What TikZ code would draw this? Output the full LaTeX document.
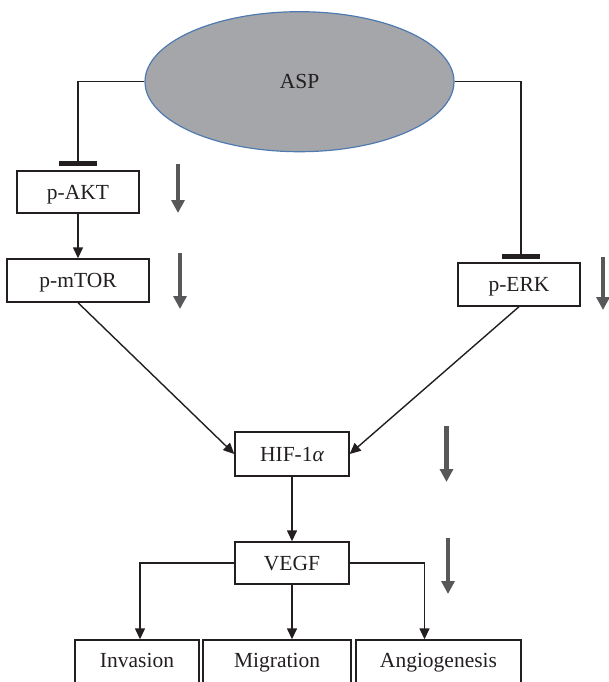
\documentclass[tikz,border=0pt]{standalone}
\usepackage{fontspec}
\setmainfont{Liberation Serif}
\usetikzlibrary{arrows.meta,shapes.geometric}
\definecolor{ink}{HTML}{231F20}
\definecolor{aspfill}{HTML}{A5A6AA}
\definecolor{aspline}{HTML}{4F7AB0}
\definecolor{downgray}{HTML}{58585A}
\begin{document}
\begin{tikzpicture}[x=1pt,y=-1pt,
  font=\fontsize{21.5}{25}\selectfont,
  box/.style={draw=ink, line width=1.4pt, rectangle, inner sep=0pt, text=ink,
    text height=14.2pt, text depth=0pt},
  botbox/.style={box, minimum height=44pt, text depth=4pt},
  arr/.style={draw=ink, line width=1.4pt, -{Triangle[length=11pt,width=10pt]}},
  tee/.style={draw=ink, line width=1.3pt, -{Rectangle[length=4.8pt,width=38pt]}},
  downarrow/.style={draw=downgray, line width=4.5pt, -{Triangle[length=13pt,width=13pt]}}
]
\useasboundingbox (0,0) rectangle (609,682);

% ASP ellipse
\node[ellipse, draw=aspline, line width=1.2pt, fill=aspfill, text=ink,
      minimum width=309pt, minimum height=140pt, inner sep=0pt] (asp) at (299.5,81.7) {ASP};

% boxes
\node[box, minimum width=122pt, minimum height=42pt] (akt) at (78,192) {p-AKT};
\node[box, minimum width=142pt, minimum height=43pt] (mtor) at (78,280.5) {p-mTOR};
\node[box, minimum width=122pt, minimum height=43pt] (erk) at (519,284.5) {p-ERK};
\node[box, minimum width=114pt, minimum height=44pt] (hif) at (292,454) {HIF-1{\itshape α}};
\node[box, minimum width=114pt, minimum height=42pt] (vegf) at (292,563) {VEGF};
\node[botbox, minimum width=124pt] (inv) at (137,662) {Invasion};
\node[botbox, minimum width=148pt] (mig) at (277,662) {Migration};
\node[botbox, minimum width=165pt] (ang) at (438.5,662) {Angiogenesis};

% inhibition connectors
\coordinate (akttee) at (78,166);
\coordinate (erktee) at (521,259);
\draw[tee] (asp.west) -| (akttee);
\draw[tee] (asp.east) -| (erktee);

% activation connectors
\draw[arr] (akt) -- (mtor);
\draw[arr] (mtor.south) -- (hif.west);
\draw[arr] (erk.south) -- (hif.east);
\draw[arr] (hif) -- (vegf);
\draw[arr] (vegf.west) -| ([xshift=3pt]inv.north);
\draw[arr] (vegf.south) -- (vegf.south |- mig.north);
\draw[arr] (vegf.east) -| ([xshift=-14pt]ang.north);

% grey down arrows
\coordinate (g1a) at (178,164); \coordinate (g1b) at (178,213);
\coordinate (g2a) at (180,253); \coordinate (g2b) at (180,309);
\coordinate (g3a) at (603,257); \coordinate (g3b) at (603,310);
\coordinate (g4a) at (446.5,426); \coordinate (g4b) at (446.5,482);
\coordinate (g5a) at (448,538); \coordinate (g5b) at (448,594);
\draw[downarrow] (g1a) -- (g1b);
\draw[downarrow] (g2a) -- (g2b);
\draw[downarrow] (g3a) -- (g3b);
\draw[downarrow] (g4a) -- (g4b);
\draw[downarrow] (g5a) -- (g5b);
\end{tikzpicture}
\end{document}
